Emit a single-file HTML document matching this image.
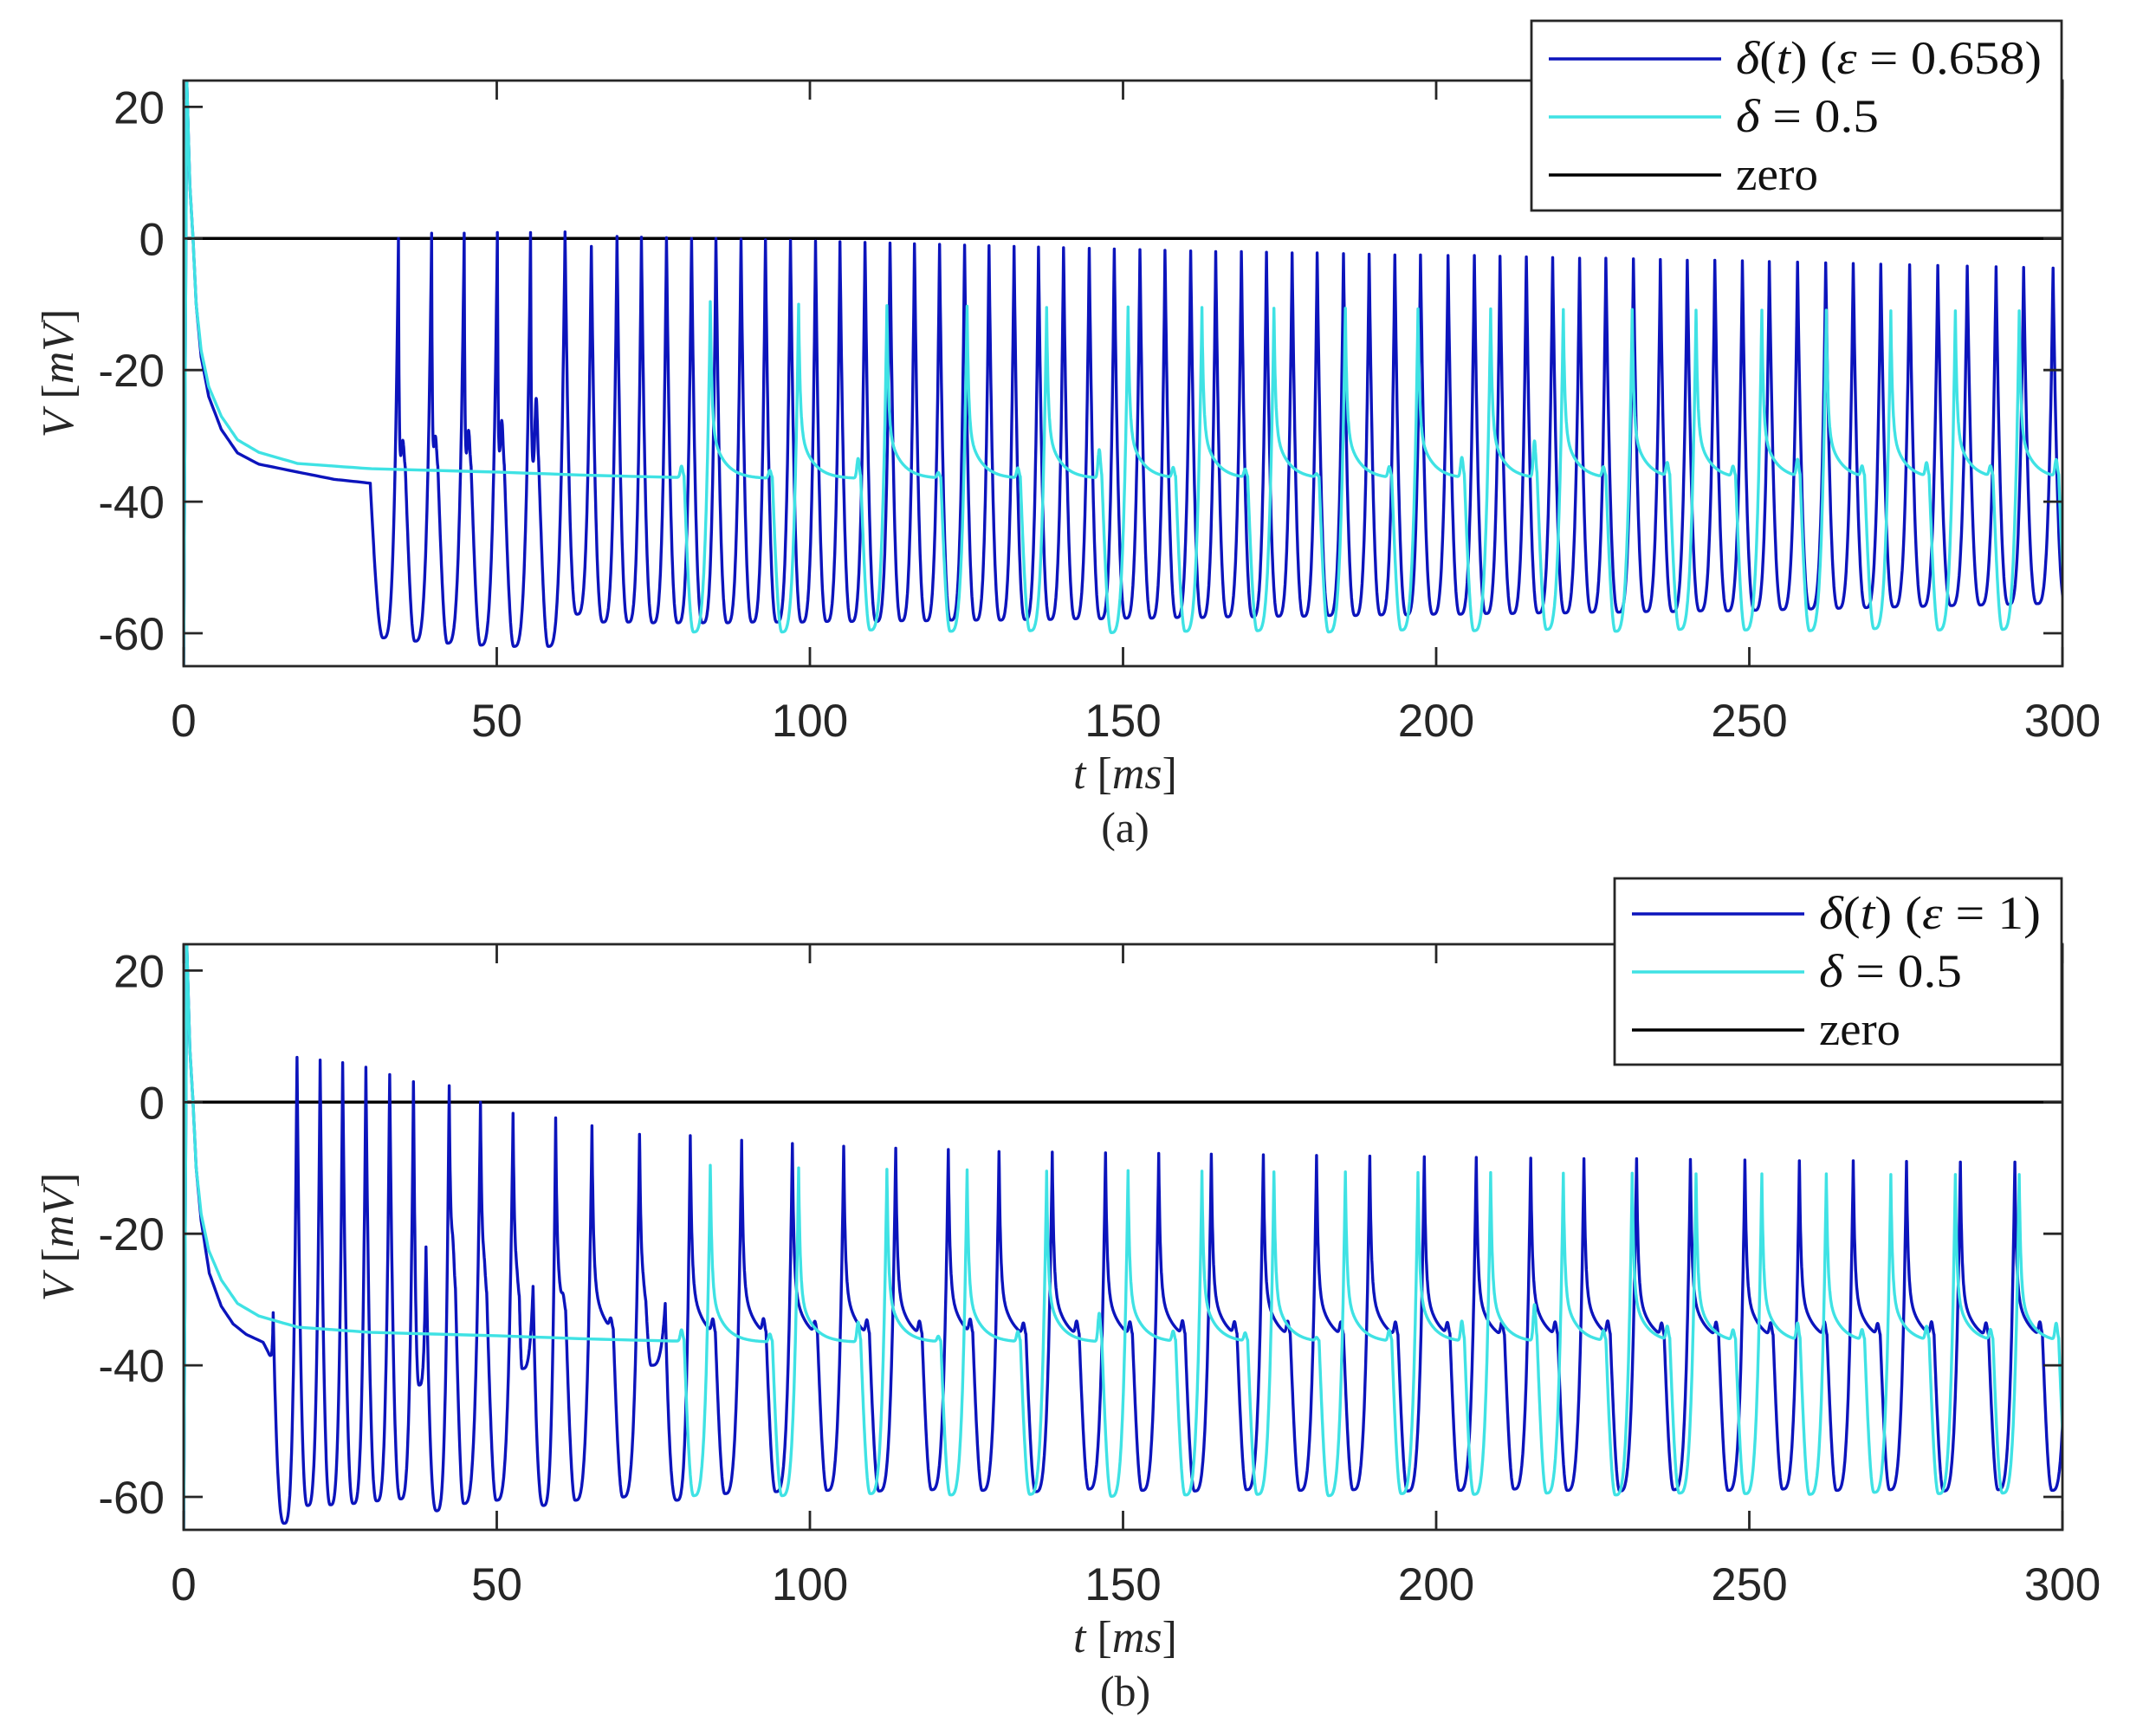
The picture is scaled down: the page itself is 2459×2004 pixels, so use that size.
<!DOCTYPE html>
<html><head><meta charset="utf-8"><style>
html,body{margin:0;padding:0;background:#fff;}
svg{display:block;}
</style></head><body>
<svg id="fig" xmlns="http://www.w3.org/2000/svg" width="2459" height="2004" viewBox="0 0 2459 2004">
<defs>
<clipPath id="clipA"><rect x="212" y="93" width="2169" height="676"/></clipPath>
<clipPath id="clipB"><rect x="212" y="1090" width="2169" height="676"/></clipPath>
</defs>
<rect width="2459" height="2004" fill="#fff"/>
<g id="panelA"></g>
<g id="panelB"></g>
</svg>
<script>
// ---------- shared axis data ----------
const xTicks = [0, 50, 100, 150, 200, 250, 300];
const yTicks = [20, 0, -20, -40, -60];
const T_MAX = 300, V_MIN = -65, V_MAX = 24;

// ---------- cyan (delta = 0.5), identical in both panels ----------
const cyanBaseT = [0, 0.5, 1.0, 1.5, 2.0, 2.8, 4, 6, 8.6, 12, 18.2, 30, 50, 65, 78];
const cyanBaseV = [-65, 24, 8, 0, -10, -17, -22.5, -27, -30.6, -32.5, -34.2, -35, -35.5, -36, -36.3];
const cyanPeakT = [84.1, 98.2, 112.3, 125.1, 137.8, 150.8, 162.6, 174.1, 185.5, 197.1, 208.7, 220.3, 231.3, 241.5, 252.0, 262.3, 272.6, 282.9, 293.1, 303.6];
const cyanPeakV = [-9.6, -10.0, -10.2, -10.3, -10.5, -10.4, -10.5, -10.6, -10.6, -10.7, -10.7, -10.8, -10.8, -10.9, -10.9, -10.9, -11.0, -11.0, -11.0, -11.0];
const cyanTroughV = [-59.8, -59.8, -59.5, -59.7, -59.6, -59.9, -59.7, -59.6, -59.8, -59.5, -59.6, -59.4, -59.7, -59.4, -59.5, -59.6, -59.3, -59.5, -59.4, -59.4];
const cyanBumpV = [-34.6, -35.3, -33.5, -35.7, -35.0, -32.2, -35.0, -35.3, -36.0, -34.9, -33.5, -31.0, -35.0, -34.5, -35.0, -34.0, -35.0, -34.5, -35.0, -34.0];
const cyanPlateau = -36.5;

// ---------- panel (a) blue: delta(t), eps = 0.658 ----------
const aBaseT = [0, 0.5, 1.0, 1.5, 2.0, 2.8, 4, 6, 8.6, 12, 18.2, 24, 28.9, 29.8];
const aBaseV = [-65, 24, 8, 0, -10, -18, -24, -29, -32.6, -34.3, -35.5, -36.6, -37.1, -37.2];
const aPeakT = [34.3, 39.6, 44.8, 50.1, 55.4, 60.9, 65.1, 69.2, 73.1, 77.1, 81.1, 85.0, 89.0, 92.9, 96.9, 100.9, 104.8, 108.8, 112.8, 116.7, 120.7, 124.7, 128.6, 132.6, 136.5, 140.5, 144.6, 148.6, 152.7, 156.7, 160.8, 164.8, 168.9, 172.9, 177.0, 181.0, 185.2, 189.3, 193.4, 197.5, 201.9, 206.1, 210.2, 214.4, 218.6, 222.9, 227.1, 231.5, 235.8, 240.1, 244.5, 248.9, 253.2, 257.7, 262.2, 266.6, 271.0, 275.6, 280.1, 284.8, 289.4, 293.8, 298.5, 302.9];
const aPeakV = [0, 0.8, 0.8, 0.9, 0.9, 1.0, -1.2, 0.3, 0.2, 0.1, 0, 0, -0.1, -0.2, -0.3, -0.4, -0.5, -0.6, -0.7, -0.8, -0.9, -1.0, -1.1, -1.2, -1.3, -1.4, -1.5, -1.6, -1.7, -1.8, -1.9, -2.0, -2.0, -2.1, -2.2, -2.2, -2.3, -2.4, -2.5, -2.5, -2.6, -2.6, -2.7, -2.8, -2.9, -3.0, -3.0, -3.1, -3.2, -3.3, -3.3, -3.4, -3.5, -3.6, -3.7, -3.8, -3.9, -4.0, -4.1, -4.2, -4.3, -4.4, -4.5, -4.6];
const aTroughV = [-60.7, -61.2, -61.5, -61.8, -62.0, -62.0, -57.1, -58.3, -58.3, -58.4, -58.4, -58.4, -58.4, -58.3, -58.3, -58.3, -58.2, -58.2, -58.2, -58.1, -58.1, -58.0, -58.0, -58.0, -57.9, -57.9, -57.8, -57.8, -57.7, -57.7, -57.6, -57.6, -57.5, -57.5, -57.4, -57.4, -57.3, -57.3, -57.2, -57.2, -57.1, -57.1, -57.0, -57.0, -56.9, -56.9, -56.8, -56.8, -56.7, -56.7, -56.6, -56.6, -56.5, -56.4, -56.3, -56.2, -56.1, -56.0, -55.9, -55.8, -55.7, -55.6, -55.5, -55.5];
const aBumpV = [null, -32, -31.5, -30.5, -29, -25.5];
const aPlateau = -36.5;

// ---------- panel (b) blue: delta(t), eps = 1 ----------
const bBaseT = [0, 0.5, 1.0, 1.5, 2.0, 2.8, 4.1, 6, 7.9, 10, 12.7, 13.5];
const bBaseV = [-65, 24, 8, 0, -10, -18, -26, -31, -33.7, -35.3, -36.5, -38];
const bPeakT = [14.3, 18.1, 21.8, 25.4, 29.1, 32.9, 36.7, 38.7, 42.4, 47.4, 52.6, 55.8, 59.4, 65.2, 72.8, 76.9, 80.9, 89.1, 97.2, 105.4, 113.7, 122.1, 130.2, 138.7, 147.2, 155.7, 164.1, 172.4, 180.9, 189.4, 198.1, 206.4, 215.1, 223.6, 232.0, 240.6, 249.3, 258.0, 266.6, 275.1, 283.7, 292.4, 301.0];
const bPeakV = [-32, 6.8, 6.4, 6.0, 5.3, 4.2, 3.1, -22, 2.5, 0, -1.7, -28, -2.4, -3.6, -4.9, -30.6, -5.1, -5.8, -6.3, -6.7, -7.0, -7.2, -7.5, -7.6, -7.7, -7.8, -7.9, -8.0, -8.1, -8.2, -8.3, -8.4, -8.5, -8.6, -8.6, -8.7, -8.8, -8.9, -8.9, -9.0, -9.1, -9.1, -9.2];
const bTroughV = [-38.5, -64, -61.3, -61.2, -61.0, -60.6, -60.3, -43, -62.1, -61.0, -60.5, -40.5, -61.3, -60.5, -60.0, -40.0, -60.5, -59.5, -59.2, -59.0, -59.1, -58.9, -59.0, -59.2, -58.8, -59.0, -59.1, -58.9, -59.0, -58.9, -59.1, -59.0, -58.8, -59.0, -59.1, -58.9, -59.0, -58.8, -59.0, -58.9, -59.1, -58.9, -59.0];
const bBumpV = [null, null, null, null, null, null, null, null, null, -32, -34, -35, null, -35, -35, -35.5, null, -34.5, -34.5, -34.8, -34.5, -34.6, -34.5, -34.8, -34.5, -34.6, -34.5, -34.7, -34.5, -34.6, -34.5, -34.8, -34.5, -34.6, -34.5, -34.7, -34.5, -34.6, -34.5, -34.8, -34.5, -34.6, -34.5];
const bPlateau = -36.5;

const NS = 'http://www.w3.org/2000/svg';
function mk(tag, attrs, parent) {
  const e = document.createElementNS(NS, tag);
  for (const k in attrs) e.setAttribute(k, attrs[k]);
  if (parent) parent.appendChild(e);
  return e;
}

function makeAxes(top, bottom) {
  const X0 = 212, X1 = 2381;
  return {
    top: top, bottom: bottom, left: X0, right: X1,
    x: t => X0 + (t / T_MAX) * (X1 - X0),
    y: v => bottom - (v - V_MIN) / (V_MAX - V_MIN) * (bottom - top)
  };
}

function buildTrace(baseT, baseV, peakT, peakV, troughV, bumpV, plat, fastTau, slowW) {
  const pts = [];
  // smooth baseline via dense cosine interpolation
  pts.push([baseT[0], baseV[0]]);
  for (let i = 1; i < baseT.length; i++) {
    const n = 8;
    for (let k = 1; k <= n; k++) {
      const s = k / n;
      pts.push([baseT[i - 1] + s * (baseT[i] - baseT[i - 1]), baseV[i - 1] + s * (baseV[i] - baseV[i - 1])]);
    }
  }
  let prevT = baseT[baseT.length - 1], prevV = baseV[baseV.length - 1], prevPeak = false;
  for (let i = 0; i < peakT.length; i++) {
    const T = peakT[i], pk = peakV[i];
    const tr = (troughV[i] !== undefined) ? troughV[i] : troughV[troughV.length - 1];
    const bump = (bumpV[i] !== undefined) ? bumpV[i] : null;
    const P = T - prevT;
    const rise = Math.min(2.7, 0.55 * P);
    const tTr = T - rise;
    if (bump === null) {
      const N = 30;
      for (let k = 1; k <= N; k++) {
        const s = k / N, t = prevT + s * (tTr - prevT);
        const v = prevPeak ? tr + (prevV - tr) * Math.pow(1 - s, 2.5)
                           : prevV + (tr - prevV) * Math.sin(s * Math.PI / 2);
        pts.push([t, v]);
      }
    } else {
      const pl = prevPeak ? plat : prevV;
      let tDrop = tTr - 1.5;
      if (tDrop < prevT + 1.0) tDrop = prevT + 1.0;
      const tb = tDrop - 0.4;
      const val = t => {
        const dt = t - prevT;
        let v = prevPeak ? pl + (prevV - pl) * ((1 - slowW) * Math.exp(-dt / fastTau) + slowW * Math.exp(-dt / 2)) : pl;
        v += (bump - pl) * Math.exp(-Math.pow((t - tb) / 0.28, 2));
        return v;
      };
      for (let t = prevT + 0.03; t < tDrop; t += 0.03) pts.push([t, val(t)]);
      const vD = val(tDrop);
      const N = 24;
      for (let k = 0; k <= N; k++) {
        const s = k / N, t = tDrop + s * (tTr - tDrop);
        pts.push([t, vD + (tr - vD) * Math.sin(s * Math.PI / 2)]);
      }
    }
    const NR = 36;
    for (let k = 1; k <= NR; k++) {
      const s = k / NR, t = tTr + s * rise;
      pts.push([t, tr + (pk - tr) * Math.pow(s, 3.5)]);
    }
    prevT = T; prevV = pk; prevPeak = true;
  }
  return pts;
}

function drawTrace(g, ax, pts, color, name, clip) {
  let d = '';
  pts.forEach((p, i) => { d += (i ? 'L' : 'M') + ax.x(p[0]).toFixed(1) + ' ' + ax.y(p[1]).toFixed(1); });
  const path = mk('path', {d: d, fill: 'none', stroke: color, 'stroke-width': 3.4, 'stroke-linejoin': 'round', 'clip-path': clip}, g);
  
  
}

function drawPanel(g, ax, blue, legendText, legendBox, panelLabel, clip) {
  const axisCol = '#262626';
  const zl = mk('line', {x1: ax.left, x2: ax.right, y1: ax.y(0), y2: ax.y(0), stroke: '#000', 'stroke-width': 3.5}, g);
  
  
  drawTrace(g, ax, buildTrace(blue.bt, blue.bv, blue.pt, blue.pv, blue.tv, blue.bu, blue.pl, blue.ft, blue.sw), '#0c14bc', 'delta-t-series', clip);
  drawTrace(g, ax, buildTrace(cyanBaseT, cyanBaseV, cyanPeakT, cyanPeakV, cyanTroughV, cyanBumpV, cyanPlateau, 0.25, 0.3), '#3fe2e4', 'delta-0-5-series', clip);
  const box = mk('rect', {x: ax.left, y: ax.top, width: ax.right - ax.left, height: ax.bottom - ax.top, fill: 'none', stroke: axisCol, 'stroke-width': 2.8}, g);
  
  
  xTicks.forEach(t => {
    const x = ax.x(t);
    mk('line', {x1: x, x2: x, y1: ax.bottom, y2: ax.bottom - 22, stroke: axisCol, 'stroke-width': 2.8}, g);
    mk('line', {x1: x, x2: x, y1: ax.top, y2: ax.top + 22, stroke: axisCol, 'stroke-width': 2.8}, g);
    const tx = mk('text', {x: x, y: ax.bottom + 81, 'text-anchor': 'middle', 'font-family': '"Liberation Sans", Arial, sans-serif', 'font-size': 53, fill: axisCol}, g);
    tx.textContent = String(t);
    
    
  });
  yTicks.forEach(v => {
    const y = ax.y(v);
    mk('line', {x1: ax.left, x2: ax.left + 22, y1: y, y2: y, stroke: axisCol, 'stroke-width': 2.8}, g);
    mk('line', {x1: ax.right, x2: ax.right - 22, y1: y, y2: y, stroke: axisCol, 'stroke-width': 2.8}, g);
    const ty = mk('text', {x: 190, y: y + 19, 'text-anchor': 'end', 'font-family': '"Liberation Sans", Arial, sans-serif', 'font-size': 53, fill: axisCol}, g);
    ty.textContent = String(v);
    
    
  });
  const xl = mk('text', {x: 1299, y: ax.bottom + 141, 'text-anchor': 'middle', 'font-family': '"Liberation Serif", serif', 'font-size': 52, fill: axisCol}, g);
  xl.innerHTML = '<tspan font-style="italic">t</tspan> [<tspan font-style="italic">ms</tspan>]';
  
  
  const pl = mk('text', {x: 1299, y: ax.bottom + 203, 'text-anchor': 'middle', 'font-family': '"Liberation Serif", serif', 'font-size': 50, fill: axisCol}, g);
  pl.textContent = panelLabel;
  
  
  const cy = (ax.top + ax.bottom) / 2;
  const yl = mk('text', {x: 0, y: 0, transform: 'translate(84 ' + cy + ') rotate(-90)', 'text-anchor': 'middle', 'font-family': '"Liberation Serif", serif', 'font-size': 52, fill: axisCol}, g);
  yl.innerHTML = '<tspan font-style="italic">V</tspan> [<tspan font-style="italic">mV</tspan>]';
  
  
  const lg = mk('g', {}, g);
  
  
  mk('rect', {x: legendBox.x, y: legendBox.y, width: 2380 - legendBox.x, height: legendBox.h, fill: '#fff', stroke: axisCol, 'stroke-width': 2.8}, lg);
  const cols = ['#0c14bc', '#3fe2e4', '#000'];
  const names = ['legend-entry-delta-t', 'legend-entry-delta-0-5', 'legend-entry-zero'];
  for (let i = 0; i < 3; i++) {
    const ey = legendBox.e0 + i * 67;
    const ent = mk('g', {}, lg);
    
    
    mk('line', {x1: legendBox.x + 20, x2: legendBox.x + 219, y1: ey, y2: ey, stroke: cols[i], 'stroke-width': 3.4}, ent);
    const t = mk('text', {x: legendBox.x + 236, y: ey + 17, 'font-family': '"Liberation Serif", serif', 'font-size': 54, fill: '#111', textLength: legendText[i].w, lengthAdjust: 'spacingAndGlyphs'}, ent);
    t.innerHTML = legendText[i].html;
  }
}

const axA = makeAxes(93, 769);
const axB = makeAxes(1090, 1766);
drawPanel(document.getElementById('panelA'), axA,
  {bt: aBaseT, bv: aBaseV, pt: aPeakT, pv: aPeakV, tv: aTroughV, bu: aBumpV, pl: aPlateau, ft: 0.1, sw: 0.05},
  [{html: '<tspan font-style="italic">δ</tspan>(<tspan font-style="italic">t</tspan>) (<tspan font-style="italic">ε</tspan> = 0.658)', w: 353},
   {html: '<tspan font-style="italic">δ</tspan> = 0.5', w: 165},
   {html: 'zero', w: 95}],
  {x: 1768, y: 24, h: 219, e0: 68}, '(a)', 'url(#clipA)');
drawPanel(document.getElementById('panelB'), axB,
  {bt: bBaseT, bv: bBaseV, pt: bPeakT, pv: bPeakV, tv: bTroughV, bu: bBumpV, pl: bPlateau, ft: 0.25, sw: 0.3},
  [{html: '<tspan font-style="italic">δ</tspan>(<tspan font-style="italic">t</tspan>) (<tspan font-style="italic">ε</tspan> = 1)', w: 256},
   {html: '<tspan font-style="italic">δ</tspan> = 0.5', w: 165},
   {html: 'zero', w: 94}],
  {x: 1864, y: 1014, h: 215, e0: 1055}, '(b)', 'url(#clipB)');
</script>
</body></html>
